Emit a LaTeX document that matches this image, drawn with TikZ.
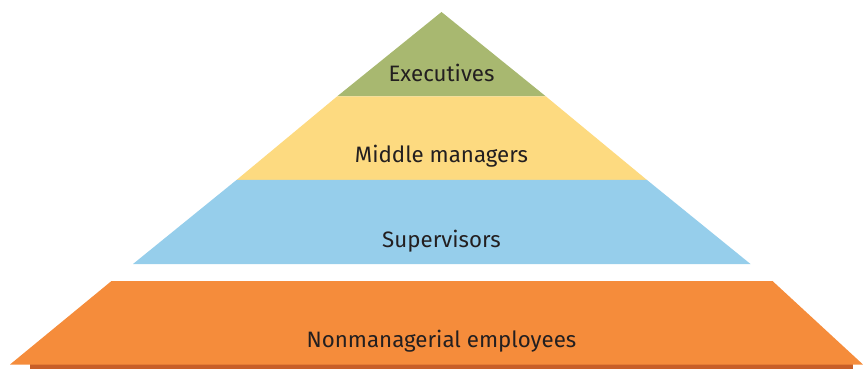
\documentclass[tikz,border=0pt]{standalone}
\usepackage{fontspec}
\setmainfont{Fira Sans}
\definecolor{execgreen}{RGB}{168,184,112}
\definecolor{midyellow}{RGB}{253,218,128}
\definecolor{supblue}{RGB}{150,206,235}
\definecolor{staffor}{RGB}{245,140,59}
\definecolor{staffdark}{RGB}{200,95,40}
\definecolor{labelgray}{RGB}{35,31,32}
\begin{document}
\begin{tikzpicture}[x=0.5pt,y=-0.5pt,
	level/.style={font=\fontsize{11.15}{12}\selectfont,text=labelgray,inner sep=0pt}]
	\useasboundingbox (0,0) rectangle (863,369);
	\fill[execgreen] (441.5,12) -- (337,96.5) -- (546,96.5) -- cycle;
	\fill[midyellow] (337,96.5) -- (236.5,180) -- (647,180) -- (546,96.5) -- cycle;
	\fill[supblue] (236.5,180) -- (133,264) -- (750.5,264) -- (647,180) -- cycle;
	\fill[staffdark] (30,363) rectangle (853,369);
	\fill[staffor] (111.5,281) -- (10,364.5) -- (863,364.5) -- (772.5,281) -- cycle;
	\node[level] (exec) at (441.5,73) {Executives};
	\node[level] (mid) at (441.5,156) {Middle managers};
	\node[level] (sup) at (441.5,241) {Supervisors};
	\node[level] (staff) at (441.5,341) {Nonmanagerial employees};
\end{tikzpicture}
\end{document}
